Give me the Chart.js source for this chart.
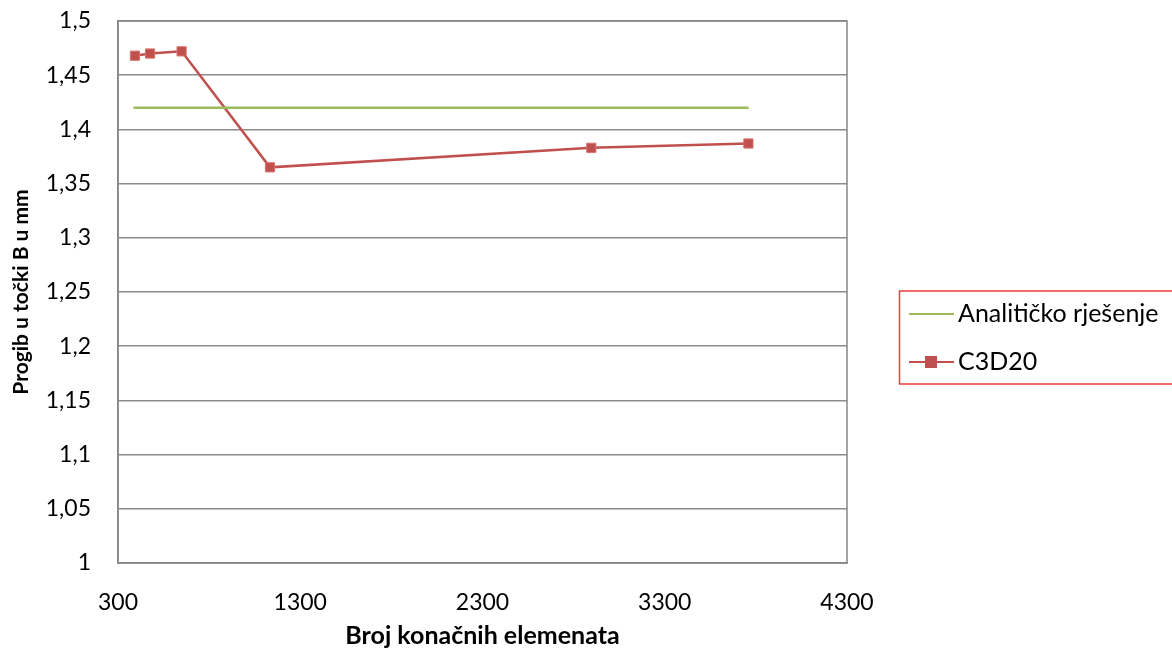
<!DOCTYPE html>
<html>
<head>
<meta charset="utf-8">
<script src="https://cdn.jsdelivr.net/npm/chart.js@4.4.1/dist/chart.umd.min.js"></script>
<style>
    html, body { margin: 0; padding: 0; background: #fff; }
    #okvir { width: 1172px; height: 651px; }
</style>
</head>
<body>
<div id="okvir"><canvas id="grafikon"></canvas></div>
<script>
// podaci ocitani sa slike
var brojElemenata = [393, 476, 649, 1134, 2897, 3759];
var progibC3D20 = [1.468, 1.470, 1.472, 1.365, 1.383, 1.387];
var analitickoX = [385, 3760];
var analitickoY = [1.42, 1.42];
var xOznake = [300, 1300, 2300, 3300, 4300];
var yOznake = [1, 1.05, 1.1, 1.15, 1.2, 1.25, 1.3, 1.35, 1.4, 1.45, 1.5];
var nazivi = ['Analitičko rješenje', 'C3D20'];

var crvena = '#C0504D';
var zelena = '#9BBB59';
var font = 'Lato, "Open Sans", sans-serif';

function parovi(xs, ys){
    var rez = [];
    for (var i = 0; i < xs.length; i++) {
        rez.push({x: xs[i], y: ys[i]});
    }
    return rez;
}

function zarez(v){
    var r = Math.round(v * 100) / 100;
    return r.toString().replace('.', ',');
}

// okvir oko podrucja i legenda desno
var okvirPlugin = {
    id: 'okvirPlugin',
    afterDraw: function(chart){
        var ctx = chart.ctx;
        var a = chart.chartArea;
        ctx.save();
        ctx.strokeStyle = '#868686';
        ctx.lineWidth = 1.5;
        ctx.strokeRect(a.left, a.top, a.right - a.left, a.bottom - a.top);

        // legenda
        ctx.strokeStyle = '#F23B3B';
        ctx.lineWidth = 1.5;
        ctx.strokeRect(899.5, 291, 280, 93);
        ctx.font = '25px ' + font;
        ctx.fillStyle = '#000';
        ctx.textBaseline = 'middle';

        ctx.strokeStyle = zelena;
        ctx.lineWidth = 2;
        ctx.beginPath();
        ctx.moveTo(909, 314);
        ctx.lineTo(954, 314);
        ctx.stroke();
        ctx.fillText(nazivi[0], 958, 314);

        ctx.strokeStyle = crvena;
        ctx.beginPath();
        ctx.moveTo(909, 362);
        ctx.lineTo(954, 362);
        ctx.stroke();
        ctx.fillStyle = crvena;
        ctx.fillRect(925, 356, 12, 12);
        ctx.fillStyle = '#000';
        ctx.fillText(nazivi[1], 958, 362);
        ctx.restore();
    }
};

var ctx = document.getElementById('grafikon');
var chart = new Chart(ctx, {
    type: 'scatter',
    data: {
        datasets: [{
            label: nazivi[0],
            data: parovi(analitickoX, analitickoY),
            showLine: true,
            borderColor: zelena,
            borderWidth: 2.5,
            pointRadius: 0
        }, {
            label: nazivi[1],
            data: parovi(brojElemenata, progibC3D20),
            showLine: true,
            borderColor: crvena,
            borderWidth: 2.5,
            pointStyle: 'rect',
            pointRadius: 6.5,
            pointBackgroundColor: crvena,
            pointBorderColor: '#D9706D',
            pointBorderWidth: 1
        }]
    },
    options: {
        responsive: true,
        maintainAspectRatio: false,
        animation: false,
        layout: {
            padding: {left: 0, top: 21, right: 325, bottom: 0}
        },
        plugins: {
            legend: {display: false},
            tooltip: {enabled: false}
        },
        scales: {
            x: {
                type: 'linear',
                min: xOznake[0],
                max: xOznake[xOznake.length - 1],
                afterFit: function(scale){
                    scale.height = 88;
                    scale.paddingLeft = 0;
                    scale.paddingRight = 0;
                },
                afterBuildTicks: function(scale){
                    scale.ticks = xOznake.map(function(v){ return {value: v}; });
                },
                grid: {display: false, drawTicks: false},
                border: {color: '#868686', width: 1.5},
                ticks: {
                    color: '#000',
                    padding: 26,
                    font: {family: font, size: 23},
                    maxRotation: 0,
                    callback: function(v){ return String(v); }
                },
                title: {
                    display: true,
                    text: 'Broj konačnih elemenata',
                    color: '#000',
                    font: {family: font, size: 25, weight: 'bold'},
                    padding: {top: 0, bottom: 0}
                }
            },
            y: {
                min: yOznake[0],
                max: yOznake[yOznake.length - 1],
                afterFit: function(scale){
                    scale.width = 118;
                    scale.paddingTop = 0;
                    scale.paddingBottom = 0;
                },
                afterBuildTicks: function(scale){
                    scale.ticks = yOznake.map(function(v){ return {value: v}; });
                },
                grid: {color: '#8C8C8C', lineWidth: 1.5, drawTicks: false},
                border: {color: '#868686', width: 1.5},
                ticks: {
                    color: '#000',
                    padding: 27,
                    font: {family: font, size: 23},
                    callback: function(v){ return zarez(v); }
                },
                title: {
                    display: true,
                    text: 'Progib u točki B u mm',
                    color: '#000',
                    font: {family: font, size: 21, weight: 'bold'},
                    padding: {top: 9, bottom: 0}
                }
            }
        }
    },
    plugins: [okvirPlugin]
});
</script>
</body>
</html>
